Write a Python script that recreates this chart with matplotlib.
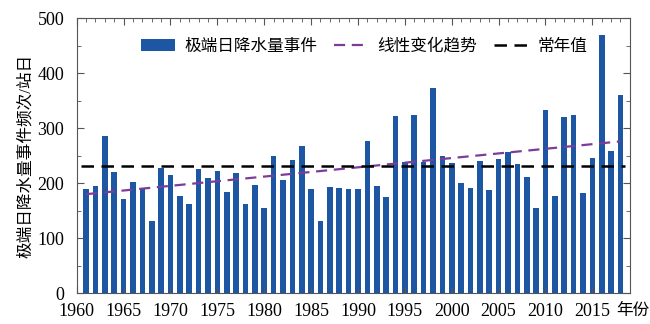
import numpy as np
import matplotlib
matplotlib.use('Agg')
import matplotlib.pyplot as plt
from matplotlib.ticker import MultipleLocator

plt.rcParams['font.family'] = ['Liberation Serif', 'Noto Sans CJK SC']
plt.rcParams['axes.unicode_minus'] = False

# 年份与极端日降水量事件频次（站日）
years = np.arange(1961, 2019)
counts = [190, 194, 286, 221, 171, 203, 189, 131, 228, 214,
          176, 162, 225, 210, 223, 184, 218, 162, 196, 154,
          249, 206, 242, 268, 190, 131, 193, 192, 190, 189,
          277, 194, 174, 323, 239, 324, 239, 373, 250, 236,
          200, 192, 241, 187, 244, 256, 235, 211, 154, 333,
          176, 320, 324, 182, 246, 470, 259, 360]

normal_value = 231          # 常年值
trend_ends = [180, 276]     # 线性趋势 1961 与 2018 的值

bar_color = '#1d56a3'
trend_color = '#7d3c98'

fig = plt.figure(figsize=(6.5, 3.24), dpi=100)
ax = fig.add_axes([0.118, 0.095, 0.851, 0.849])

b = ax.bar(years, counts, width=0.6, color=bar_color)
t, = ax.plot([years[0], years[-1]], trend_ends, ls=(0, (5, 3)), color=trend_color,
             lw=1.6)
n, = ax.plot([years[0] - 0.5, years[-1] + 0.5], [normal_value] * 2, ls=(0, (5, 3)),
             color='black', lw=1.8)

ax.set_xlim(1960, 2019)
ax.set_ylim(0, 500)
ax.xaxis.set_major_locator(MultipleLocator(5))
ax.xaxis.set_minor_locator(MultipleLocator(1))
ax.yaxis.set_major_locator(MultipleLocator(100))
ax.yaxis.set_minor_locator(MultipleLocator(50))
ax.tick_params(which='both', direction='in', top=True, right=True,
               labelsize=13, color='#555555')
ax.tick_params(which='major', length=5)
ax.tick_params(which='minor', length=3)
ax.tick_params(axis='x', which='minor', top=True, bottom=False)
ax.tick_params(axis='x', pad=7)
ax.tick_params(axis='y', pad=9)
for s in ax.spines.values():
    s.set_color('#555555')
    s.set_linewidth(0.8)

ax.set_ylabel('极端日降水量事件频次/站日', fontsize=12, labelpad=2)
fig.text(0.999, 0.04, '年份', fontsize=12, ha='right', va='center')

ax.legend([b, t, n], ['极端日降水量事件', '线性变化趋势', '常年值'],
          loc='upper center', bbox_to_anchor=(0.52, 0.98), ncol=3,
          frameon=False, fontsize=12, handlelength=2.0, columnspacing=1.0,
          handletextpad=0.6)

fig.savefig('out.png', dpi=100)
